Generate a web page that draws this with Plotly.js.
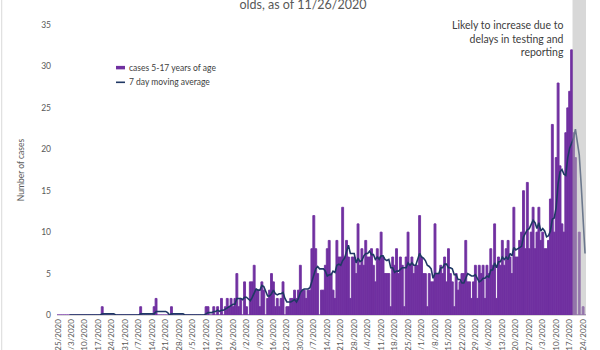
<!DOCTYPE html>
<html>
<head>
<meta charset="utf-8">
<script src="https://cdn.plot.ly/plotly-3.0.1.min.js"></script>
<style>
  html, body { margin: 0; padding: 0; background: #ffffff; }
  #chart { width: 600px; height: 350px; }
</style>
</head>
<body>
<div id="chart"></div>
<script>
// ---- Data ----
// Daily cases, 5-17 years of age, by month (first day of each array given in monthStarts)
const monthStarts = [[2, 25], [3, 1], [4, 1], [5, 1], [6, 1], [7, 1], [8, 1], [9, 1], [10, 1], [11, 1]];

const casesFeb = [0, 0, 0, 0, 0];
const casesMar = [0,0,0,0,0,0,0,0,0,0,0,0,0,0,0,0,0,0,1,0,0,0,0,0,0,0,0,0,0,0,0];
const casesApr = [0,0,0,0,0,0,0,1,0,0,0,0,0,0,1,2,0,0,0,0,0,0,0,1,0,0,0,0,0,0];
const casesMay = [0,0,0,0,0,0,0,0,0,0,0,1,1,0,0,1,0,1,0,2,0,1,2,1,2,1,2,5,1,2,0];
const casesJun = [4,1,0,4,4,6,3,3,1,4,3,0,2,3,5,4,1,2,1,2,4,0,1,1,2,2,3,2,3,6];
const casesJul = [3,3,2,3,3,8,12,8,5,0,3,3,6,8,9,5,3,2,9,7,7,13,7,9,7,2,7,7,5,11,6];
const casesAug = [8,6,9,7,7,8,6,4,8,7,10,7,5,5,5,1,7,6,8,5,7,6,1,7,10,6,7,5,6,6,12];
const casesSep = [7,5,5,1,5,4,4,11,5,5,6,5,7,4,8,5,4,1,5,3,4,5,5,9,4,4,2,4,6,2];
const casesOct = [6,5,6,2,6,5,8,6,11,2,7,6,9,6,8,9,7,5,13,7,7,9,10,15,8,16,8,10,13,8,10];
const casesNov = [13,9,10,8,8,9,14,23,10,19,28,18,11,10,22,25,27,32,22,19,0,10,0,1,0];

// 7 day moving average, by month (null where the line is not drawn)
const avgFeb = [null, null, null, null, null];
const avgMar = [null,0,0,0,0,0,0,0,0,0,0,0,0,0,0,0,0,0,0.14,0.14,0.14,0.14,0.14,0.14,0.14,0,0,0,0,0,0];
const avgApr = [0,0,0,0,0,0,0,0.14,0.14,0.14,0.14,0.14,0.14,0.14,0.14,0.43,0.43,0.43,0.43,0.43,0.43,0.29,0,0.14,0.14,0.14,0.14,0.14,0.14,0.14];
const avgMay = [0,0,0,0,0,0,0,0,0,0,0,0.14,0.29,0.29,0.29,0.43,0.43,0.57,0.43,0.57,0.57,0.71,0.86,1.00,1.14,1.29,1.29,2.00,2.00,2.00,1.86];
const avgJun = [2.14,2.14,1.86,1.71,2.14,2.71,3.14,3.00,3.00,3.57,3.43,2.86,2.29,2.29,2.57,3.00,2.57,2.43,2.57,2.57,2.71,2.00,1.57,1.57,1.57,1.71,1.86,1.57,2.00,2.71];
const avgJul = [3.00,3.14,3.14,3.14,3.29,4.00,4.86,5.57,5.86,5.57,5.57,5.57,5.29,4.71,4.86,4.86,5.29,5.14,6.00,6.14,6.00,6.57,6.86,7.71,8.43,7.43,7.43,7.43,6.29,6.86,6.43];
const avgAug = [6.57,7.14,7.43,7.43,7.71,7.29,7.29,6.71,7.00,6.71,7.14,7.14,6.71,6.57,6.71,5.71,5.71,5.14,5.29,5.29,5.57,5.71,5.71,5.71,6.29,6.00,6.29,6.00,6.00,6.71,7.43];
const avgSep = [7.00,6.86,6.57,6.00,5.86,5.57,4.43,5.00,5.00,5.00,5.71,5.71,6.14,6.14,5.71,5.71,5.57,4.86,4.86,4.29,4.29,3.86,3.86,4.57,5.00,4.86,4.71,4.71,4.86,4.43];
const avgOct = [4.00,4.14,4.43,4.43,4.71,4.57,5.43,5.43,6.29,5.71,6.43,6.43,7.00,6.71,7.00,6.71,7.43,7.14,8.14,7.86,8.00,8.14,8.29,9.43,9.86,10.29,10.43,10.86,11.43,11.14,10.43];
const avgNov = [11.14,10.14,10.43,10.14,9.43,9.57,10.14,11.57,11.71,13.00,15.86,17.29,17.57,17.00,16.86,19.00,20.14,20.71,21.29,22.43,21.00,19.29,15.71,12.00,7.43];

// Weekly tick labels on the x axis
const tickLabels = ["2/25/2020","3/3/2020","3/10/2020","3/17/2020","3/24/2020","3/31/2020","4/7/2020","4/14/2020",
  "4/21/2020","4/28/2020","5/5/2020","5/12/2020","5/19/2020","5/26/2020","6/2/2020","6/9/2020","6/16/2020",
  "6/23/2020","6/30/2020","7/7/2020","7/14/2020","7/21/2020","7/28/2020","8/4/2020","8/11/2020","8/18/2020",
  "8/25/2020","9/1/2020","9/8/2020","9/15/2020","9/22/2020","9/29/2020","10/6/2020","10/13/2020","10/20/2020",
  "10/27/2020","11/3/2020","11/10/2020","11/17/2020","11/24/2020"];

const seriesNames = ["cases 5-17 years of age", "7 day moving average"];
const chartTitle = "olds, as of 11/26/2020";
const yTitle = "Number of cases";
const noteText = "Likely to increase due to<br>delays in testing and<br>reporting";
// Period flagged as incomplete (shaded)
const shadedPeriod = ["2020-11-18 12:00", "2020-11-25 12:00"];

// ---- Build dates from the monthly arrays ----
const casesByMonth = [casesFeb, casesMar, casesApr, casesMay, casesJun, casesJul, casesAug, casesSep, casesOct, casesNov];
const avgByMonth = [avgFeb, avgMar, avgApr, avgMay, avgJun, avgJul, avgAug, avgSep, avgOct, avgNov];
const pad = n => (n < 10 ? "0" : "") + n;
const dates = [], cases = [], avg = [];
casesByMonth.forEach((arr, k) => {
  const [m, d0] = monthStarts[k];
  arr.forEach((v, i) => {
    dates.push("2020-" + pad(m) + "-" + pad(d0 + i));
    cases.push(v);
    avg.push(avgByMonth[k][i]);
  });
});
const tickVals = tickLabels.map(s => {
  const [m, d, y] = s.split("/").map(Number);
  return y + "-" + pad(m) + "-" + pad(d);
});

const FONT = "Lato, 'Open Sans', 'DejaVu Sans', sans-serif";
const PURPLE = "#7030A0";
const NAVY = "#1F3864";

const traces = [
  {
    type: "bar", name: seriesNames[0], x: dates, y: cases,
    marker: { color: PURPLE, line: { color: PURPLE, width: 0.9 } },
    hoverinfo: "x+y", showlegend: false
  },
  {
    type: "scatter", mode: "lines", name: seriesNames[1], x: dates, y: avg,
    line: { color: NAVY, width: 1.6 }, connectgaps: false, showlegend: false
  }
];

const layout = {
  width: 600, height: 350,
  margin: { l: 57, r: 14, t: 25, b: 35, pad: 0 },
  paper_bgcolor: "#ffffff", plot_bgcolor: "#ffffff",
  font: { family: FONT, color: "#595959", size: 8 },
  bargap: 0,
  showlegend: false,
  title: {
    text: chartTitle, font: { family: FONT, size: 12.5, color: "#595959" },
    x: 0.505, xref: "container", xanchor: "center",
    y: 0.986, yref: "container", yanchor: "middle"
  },
  xaxis: {
    type: "date",
    range: ["2020-02-24 12:00", "2020-11-25 12:00"],
    tickmode: "array", tickvals: tickVals, ticktext: tickLabels,
    tickangle: -90, tickfont: { size: 8, color: "#595959" },
    ticks: "", showgrid: false, zeroline: false,
    showline: true, linecolor: "#D9D9D9", linewidth: 1,
    automargin: false, fixedrange: true
  },
  yaxis: {
    range: [0, 35], dtick: 5, tick0: 0,
    tickfont: { size: 8.5, color: "#595959" },
    ticks: "", ticklabelstandoff: 5,
    showgrid: false, zeroline: false, showline: false,
    title: { text: yTitle, font: { size: 8.5, color: "#595959" }, standoff: 15 },
    automargin: false, fixedrange: true
  },
  shapes: [
    // shaded incomplete period
    { type: "rect", xref: "x", yref: "paper", x0: shadedPeriod[0], x1: shadedPeriod[1],
      y0: 0, y1: 1.09, fillcolor: "rgba(180,180,180,0.52)", line: { width: 0 }, layer: "above" },
    // legend swatches
    { type: "rect", xref: "paper", yref: "paper", x0: 0.1115, x1: 0.1285, y0: 0.847, y1: 0.859,
      fillcolor: PURPLE, line: { width: 0 } },
    { type: "line", xref: "paper", yref: "paper", x0: 0.1115, x1: 0.1285, y0: 0.8024, y1: 0.8024,
      line: { color: NAVY, width: 1.6 } },
    // chart border (left edge)
    { type: "line", xref: "paper", yref: "paper", x0: -0.1045, x1: -0.1045, y0: -0.13, y1: 1.1,
      line: { color: "#D9D9D9", width: 1 } }
  ],
  annotations: [
    { xref: "paper", yref: "paper", x: 0.1323, y: 0.8528, xanchor: "left", yanchor: "middle",
      text: seriesNames[0], showarrow: false, font: { family: FONT, size: 8.5, color: "#404040" } },
    { xref: "paper", yref: "paper", x: 0.1323, y: 0.8024, xanchor: "left", yanchor: "middle",
      text: seriesNames[1], showarrow: false, font: { family: FONT, size: 8.5, color: "#404040" } },
    { xref: "paper", yref: "paper", x: 0.9622, y: 0.954, xanchor: "right", yanchor: "middle",
      align: "right", text: noteText, showarrow: false,
      font: { family: FONT, size: 10.5, color: "#404040" } }
  ]
};

Plotly.newPlot("chart", traces, layout, { displayModeBar: false, staticPlot: true });
</script>
</body>
</html>
